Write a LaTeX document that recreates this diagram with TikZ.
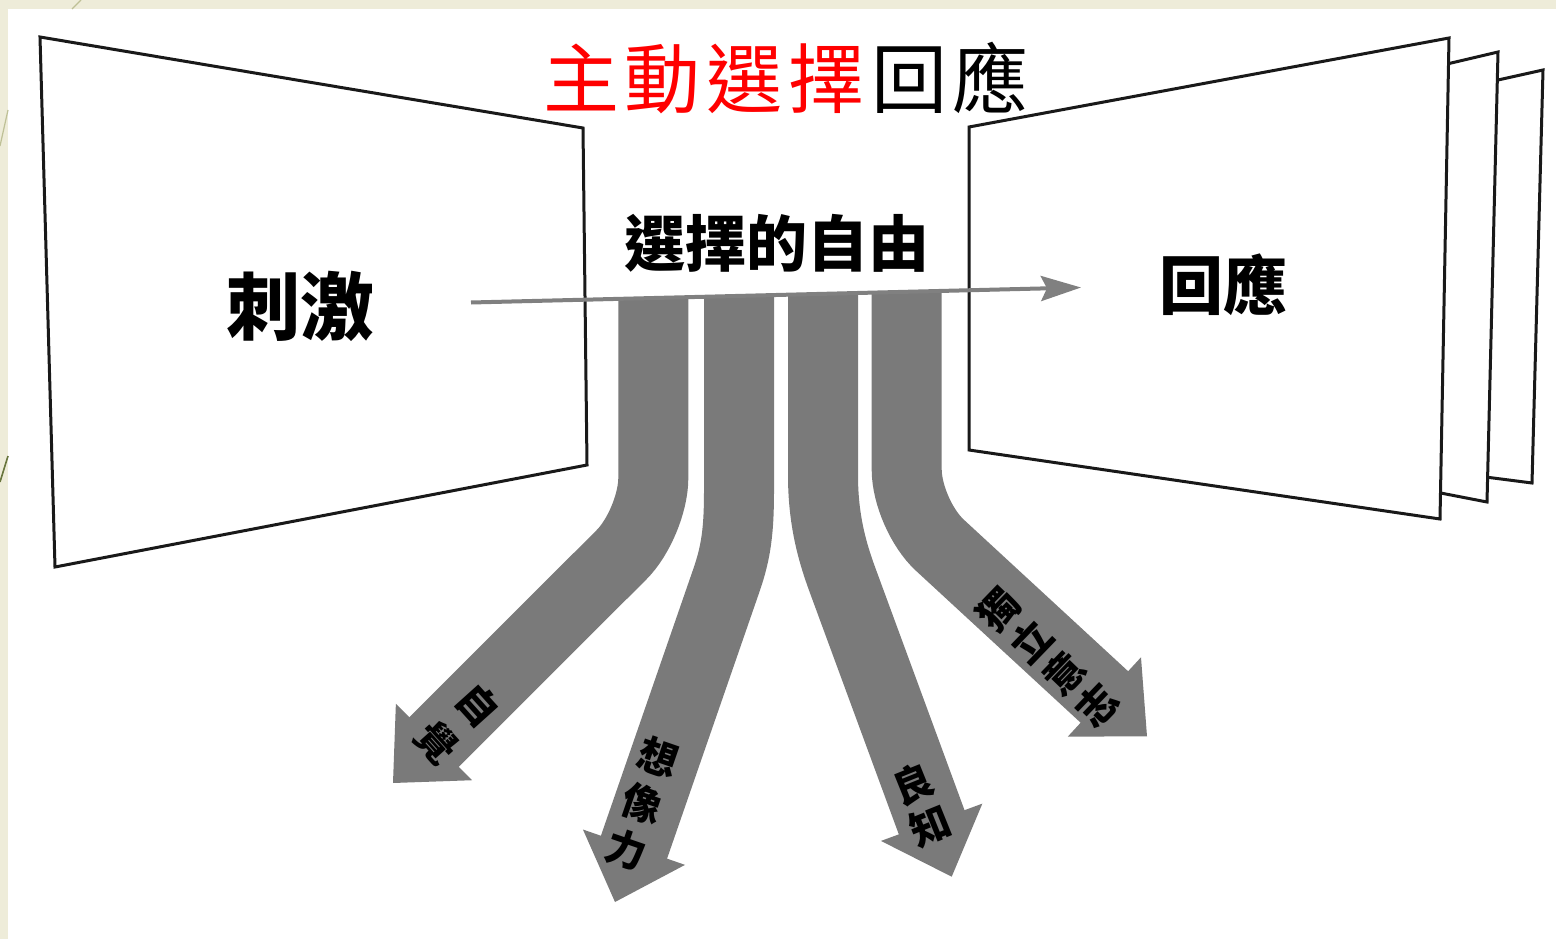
\documentclass[tikz,border=0pt]{standalone}
\usepackage{fontspec}
\newfontfamily\cjk{Noto Sans CJK TC}
\usetikzlibrary{arrows.meta,calc}
\definecolor{bandgray}{RGB}{122,122,122}
\definecolor{linegray}{RGB}{128,128,128}
\definecolor{framebg}{RGB}{238,236,217}
\definecolor{decoolive}{RGB}{105,118,62}
\definecolor{decolight}{RGB}{190,192,150}
\definecolor{titlered}{RGB}{255,0,0}
\newcommand\tgap{\hspace{6pt}}
\begin{document}
\begin{tikzpicture}[x=1pt,y=-1pt,
  panel/.style={draw=black!90,line width=3pt,fill=white,line join=miter},
  band/.style={draw=bandgray,line width=70pt,line cap=butt},
  headfill/.style={fill=bandgray},
  bigbold/.style={font=\cjk\bfseries\fontsize{#1}{#1}\selectfont,inner sep=0pt},
  bandlabel/.style={font=\cjk\bfseries\fontsize{40}{#1}\selectfont,align=center,inner sep=0pt},
]
\useasboundingbox (0,0) rectangle (1556,939);
\fill[framebg] (0,0) rectangle (1556,939);
\fill[white] (8,9) rectangle (1556,939);
\draw[decolight, line width=1.2pt] (81,0) -- (72,9);
\draw[decolight, line width=1.2pt] (8,110) -- (0,146);
\draw[decoolive, line width=1.6pt] (8,456) -- (0,482);

% panels
\draw[panel] (40,37) -- (583,128) -- (587,465) -- (55,567) -- cycle;
\draw[panel] (1480,84) -- (1543,70) -- (1532,483) -- (1470,475) -- cycle;
\draw[panel] (1430,68) -- (1498,52) -- (1487,502) -- (1420,489) -- cycle;
\draw[panel] (969,127) -- (1449,38) -- (1440,519) -- (969,450) -- cycle;

% texts
\node[bigbold=74] (stim) at (300,306) {刺激};
\node[bigbold=64] (resp) at (1223,285) {回應};
\node[bigbold=61] (free) at (777,243) {選擇的自由};
\node[font=\cjk\fontsize{76}{76}\selectfont, inner sep=0pt] (title) at (786,78)
  {\textcolor{titlered}{主\tgap 動\tgap 選\tgap 擇}\tgap 回\tgap 應};

% band 1
\coordinate (b1top) at (653.3,299);
\coordinate (b1bend) at (653.3,523);
\coordinate (b1tip) at (393,783);
\coordinate (b1base) at ($(b1tip)!58pt!(b1bend)$);
\coordinate (b1end) at ($(b1tip)!55pt!(b1bend)$);
\draw[band, rounded corners=45pt] (b1top) -- (b1bend) -- (b1end);
\fill[headfill] (b1tip) -- ($(b1base)!54pt!90:(b1tip)$) -- ($(b1base)!54pt!-90:(b1tip)$) -- cycle;

% band 2
\coordinate (b2top) at (739,297);
\coordinate (b2v) at (739,490);
\coordinate (b2p) at (726.5,580);
\coordinate (b2tip) at (615,902);
\coordinate (b2base) at ($(b2tip)!58pt!(b2p)$);
\coordinate (b2end) at ($(b2tip)!55pt!(b2p)$);
\draw[band] (b2top) -- (b2v) .. controls (739,530) and (736.3,551.6) .. (b2p) -- (b2end);
\fill[headfill] (b2tip) -- ($(b2base)!54pt!90:(b2tip)$) -- ($(b2base)!54pt!-90:(b2tip)$) -- cycle;

% band 3
\coordinate (b3top) at (823,295);
\coordinate (b3v) at (823,475);
\coordinate (b3p) at (842.5,580);
\coordinate (b3tip) at (951.7,876.7);
\coordinate (b3base) at ($(b3tip)!58pt!(b3p)$);
\coordinate (b3end) at ($(b3tip)!55pt!(b3p)$);
\draw[band] (b3top) -- (b3v) .. controls (823,520) and (832.2,551.9) .. (b3p) -- (b3end);
\fill[headfill] (b3tip) -- ($(b3base)!54pt!90:(b3tip)$) -- ($(b3base)!54pt!-90:(b3tip)$) -- cycle;

% band 4
\coordinate (b4top) at (906.7,293);
\coordinate (b4bend) at (906.7,514.6);
\coordinate (b4tip) at (1147,736.3);
\coordinate (b4base) at ($(b4tip)!58pt!(b4bend)$);
\coordinate (b4end) at ($(b4tip)!55pt!(b4bend)$);
\draw[band, rounded corners=45pt] (b4top) -- (b4bend) -- (b4end);
\fill[headfill] (b4tip) -- ($(b4base)!54pt!90:(b4tip)$) -- ($(b4base)!54pt!-90:(b4tip)$) -- cycle;

% band labels
\node[bandlabel=55, rotate=-48] (l1) at (457.5,723.4) {自\\覺};
\node[bandlabel=48.6, rotate=-19] (l2) at (642,804) {想\\像\\力};
\node[bandlabel=45, rotate=22] (l3) at (921.7,804.8) {良\\知};
\node[bandlabel=46, rotate=46] (l4) at (1048,657) {獨\\立\\意\\志};

% main arrow
\coordinate (s) at (471,302.5);
\coordinate (r) at (1081,287.5);
\draw[linegray, line width=4pt, -{Stealth[length=40pt,width=25pt,inset=6pt]}] (s) -- (r);
\end{tikzpicture}
\end{document}
